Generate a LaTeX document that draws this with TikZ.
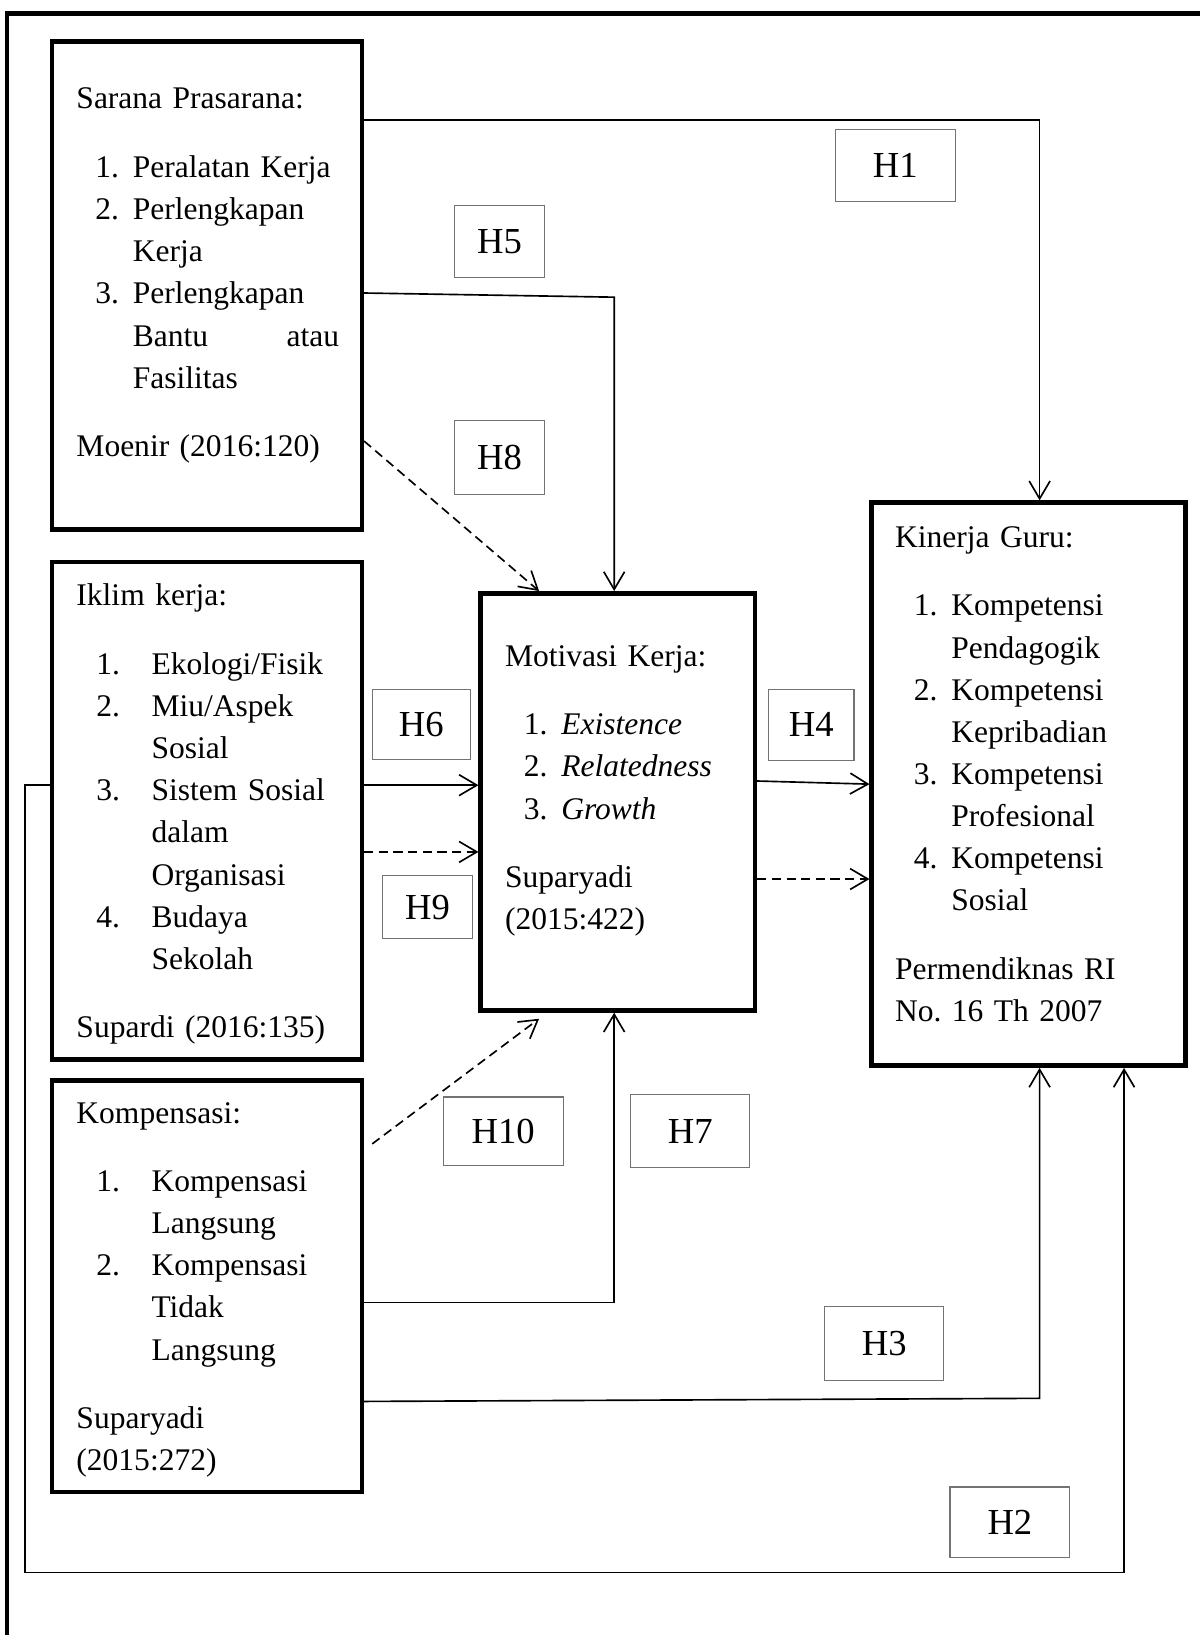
\documentclass[tikz,border=0pt]{standalone}
\usepackage{fontspec}
\setmainfont{Liberation Serif}
\usetikzlibrary{arrows.meta, positioning}

\newcommand{\bodyfont}{\fontsize{17.2}{23}\selectfont\frenchspacing}
\newcommand{\hypfont}{\fontsize{20}{24}\selectfont}
\newcommand{\numA}[1]{\hspace*{0.36cm}\makebox[0.72cm][l]{#1}}
\newcommand{\numB}[1]{\hspace*{0.38cm}\makebox[1.06cm][l]{#1}}
\newcommand{\contA}{\hspace*{1.08cm}}
\newcommand{\contB}{\hspace*{1.44cm}}

\begin{document}
\begin{tikzpicture}[
    x=0.02cm, y=-0.02cm,
    outerframe/.style={line width=2.3pt},
    bigbox/.style={rectangle, draw, line width=2.5pt, inner sep=0pt},
    txt/.style={anchor=base west, inner sep=0pt, align=left, font=\bodyfont},
    hyp/.style={rectangle, draw=black!55, line width=0.6pt, font=\hypfont, inner sep=0pt},
    arrow/.style={line width=0.9pt, -{Straight Barb[length=0.34cm, width=0.4cm]}},
    dasharrow/.style={arrow, dash pattern=on 5pt off 3pt}
]
\useasboundingbox (0,0) rectangle (1151,1568);
\draw[outerframe] (1151,13) -- (7,13) -- (7,1568);

% kotak variabel
\node[bigbox, minimum width=5.94cm, minimum height=9.36cm] (sarana) at (198.5,274) {};
\node[bigbox, minimum width=5.94cm, minimum height=9.54cm] (iklim) at (198.5,777.5) {};
\node[bigbox, minimum width=5.94cm, minimum height=7.9cm] (kompensasi) at (198.5,1233.5) {};
\node[bigbox, minimum width=5.26cm, minimum height=8cm] (motivasi) at (592.5,769) {};
\node[bigbox, minimum width=6.02cm, minimum height=10.8cm] (kinerja) at (986.5,752) {};

% isi kotak
\node[txt, text width=5.2cm] (saranatxt) at (73,104.5) {Sarana Prasarana:\\[14.4pt]
\numA{1.}Peralatan Kerja\\
\numA{2.}Perlengkapan\\
\contA Kerja\\
\numA{3.}Perlengkapan\\
\contA\makebox[3.96cm]{Bantu\hfill atau}\\
\contA Fasilitas\\[14.4pt]
Moenir (2016:120)};

\node[txt, text width=5.3cm] (iklimtxt) at (73,581) {Iklim kerja:\\[14.4pt]
\numB{1.}Ekologi/Fisik\\
\numB{2.}Miu/Aspek\\
\contB Sosial\\
\numB{3.}Sistem Sosial\\
\contB dalam\\
\contB Organisasi\\
\numB{4.}Budaya\\
\contB Sekolah\\[14.4pt]
Supardi (2016:135)};

\node[txt, text width=5.3cm] (kompensasitxt) at (73,1077) {Kompensasi:\\[14.4pt]
\numB{1.}Kompensasi\\
\contB Langsung\\
\numB{2.}Kompensasi\\
\contB Tidak\\
\contB Langsung\\[14.4pt]
Suparyadi\\
(2015:272)};

\node[txt, text width=4.7cm] (motivasitxt) at (484,639) {Motivasi Kerja:\\[14.4pt]
\numA{1.}\textit{Existence}\\
\numA{2.}\textit{Relatedness}\\
\numA{3.}\textit{Growth}\\[14.4pt]
Suparyadi\\
(2015:422)};

\node[txt, text width=5.5cm] (kinerjatxt) at (858,525) {Kinerja Guru:\\[14.4pt]
\numA{1.}Kompetensi\\
\contA Pendagogik\\
\numA{2.}Kompetensi\\
\contA Kepribadian\\
\numA{3.}Kompetensi\\
\contA Profesional\\
\numA{4.}Kompetensi\\
\contA Sosial\\[14.4pt]
Permendiknas RI\\
No. 16 Th 2007};

% hipotesis
\node[hyp, minimum width=2.3cm, minimum height=1.38cm] (h1) at (858.5,158.5) {H1};
\node[hyp, minimum width=1.72cm, minimum height=1.38cm] (h5) at (479,231.5) {H5};
\node[hyp, minimum width=1.72cm, minimum height=1.42cm] (h8) at (479,438.5) {H8};
\node[hyp, minimum width=1.88cm, minimum height=1.34cm] (h6) at (404,694.5) {H6};
\node[hyp, minimum width=1.72cm, minimum height=1.2cm] (h9) at (410,870) {H9};
\node[hyp, minimum width=1.64cm, minimum height=1.36cm] (h4) at (778,695) {H4};
\node[hyp, minimum width=2.3cm, minimum height=1.32cm] (h10) at (482.5,1085) {H10};
\node[hyp, minimum width=2.28cm, minimum height=1.4cm] (h7) at (662,1085) {H7};
\node[hyp, minimum width=2.28cm, minimum height=1.42cm] (h3) at (848,1288.5) {H3};
\node[hyp, minimum width=2.3cm, minimum height=1.36cm] (h2) at (968.5,1460) {H2};

% titik belok
\coordinate (h1turn) at (997,115);
\coordinate (h5start) at (0,281);
\coordinate (h5turn) at (589,285);
\coordinate (h8start) at (0,423);
\coordinate (h8end) at (517,0);
\coordinate (h6lvl) at (0,753);
\coordinate (h9lvl) at (0,817);
\coordinate (h10start) at (357,1097);
\coordinate (h10end) at (517,977);
\coordinate (h7turn) at (589,1249);
\coordinate (h4start) at (0,749);
\coordinate (h4end) at (0,752);
\coordinate (dashlvl) at (0,843);
\coordinate (h3start) at (0,1344);
\coordinate (h3turn) at (997,1341);
\coordinate (h2left) at (24,753);
\coordinate (h2low) at (24,1508);
\coordinate (h2turn) at (1078,1508);

% panah
\draw[arrow] (sarana.east |- h1turn) -- (h1turn) -- (kinerja.north -| h1turn);
\draw[arrow] (sarana.east |- h5start) -- (h5turn) -- (motivasi.north -| h5turn);
\draw[dasharrow] (sarana.east |- h8start) -- (motivasi.north -| h8end);
\draw[arrow] (iklim.east |- h6lvl) -- (motivasi.west |- h6lvl);
\draw[dasharrow] (iklim.east |- h9lvl) -- (motivasi.west |- h9lvl);
\draw[dasharrow] (h10start) -- (h10end);
\draw[arrow] (kompensasi.east |- h7turn) -- (h7turn) -- (motivasi.south -| h7turn);
\draw[arrow] (motivasi.east |- h4start) -- (kinerja.west |- h4end);
\draw[dasharrow] (motivasi.east |- dashlvl) -- (kinerja.west |- dashlvl);
\draw[arrow] (kompensasi.east |- h3start) -- (h3turn) -- (kinerja.south -| h3turn);
\draw[arrow] (iklim.west |- h2left) -- (h2left) -- (h2low) -- (h2turn) -- (kinerja.south -| h2turn);
\end{tikzpicture}
\end{document}
